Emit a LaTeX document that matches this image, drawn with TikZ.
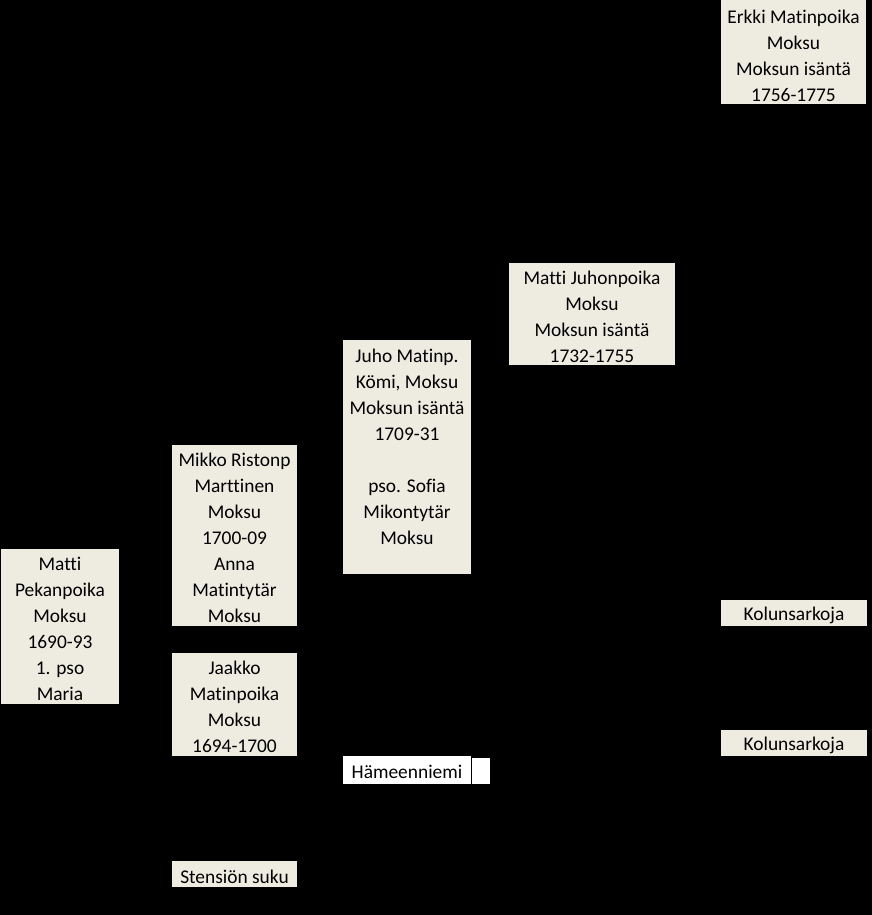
\documentclass[tikz,border=0pt]{standalone}
\usepackage{fontspec}
\setmainfont{Carlito}[Ligatures=NoCommon]
\definecolor{beige}{HTML}{EEECE1}
\begin{document}
\begin{tikzpicture}[x=1pt,y=-1pt,
  personbox/.style={fill=beige, draw=none, inner sep=0pt},
  whitebox/.style={personbox, fill=white},
  boxtext/.style={inner sep=0pt, align=center, yshift=-2.5pt,
    font=\fontsize{19.4}{26}\selectfont, text=black},
  link/.style={draw=black, line width=1pt}]
\fill[black] (0,0) rectangle (872,915);
\useasboundingbox (0,0) rectangle (872,915);

\node[personbox, minimum width=118pt, minimum height=155pt,
  label={[boxtext]center:{Matti\\Pekanpoika\\Moksu\\1690-93\\1. pso\\Maria}}] (matti) at (60,626.5) {};
\node[personbox, minimum width=125pt, minimum height=181pt,
  label={[boxtext]center:{Mikko Ristonp\\Marttinen\\Moksu\\1700-09\\Anna\\Matintytär\\Moksu}}] (mikko) at (234.5,535.5) {};
\node[personbox, minimum width=125pt, minimum height=103pt,
  label={[boxtext]center:{Jaakko\\Matinpoika\\Moksu\\1694-1700}}] (jaakko) at (234.5,704.5) {};
\node[personbox, minimum width=125pt, minimum height=26pt,
  label={[boxtext]center:{Stensiön suku}}] (stension) at (234.5,874) {};
\node[personbox, minimum width=128pt, minimum height=234pt,
  label={[boxtext, yshift=12.5pt]center:{Juho Matinp.\\Kömi, Moksu\\Moksun isäntä\\1709-31\\[26pt]pso. Sofia\\Mikontytär\\Moksu}}] (juho) at (407,457) {};
\node[whitebox, minimum width=128pt, minimum height=28pt,
  label={[boxtext, yshift=1pt]center:{Hämeenniemi}}] (hame) at (407,770) {};
\node[whitebox, minimum width=18pt, minimum height=26pt] (hameb) at (481,771) {};
\node[personbox, minimum width=166pt, minimum height=102pt,
  label={[boxtext]center:{Matti Juhonpoika\\Moksu\\Moksun isäntä\\1732-1755}}] (mjuho) at (592,314) {};
\node[personbox, minimum width=145pt, minimum height=104pt,
  label={[boxtext, yshift=-1pt]center:{Erkki Matinpoika\\Moksu\\Moksun isäntä\\1756-1775}}] (erkki) at (793.5,52) {};
\node[personbox, minimum width=146pt, minimum height=26pt,
  label={[boxtext]center:{Kolunsarkoja}}] (kol1) at (794,613) {};
\node[personbox, minimum width=146pt, minimum height=26pt,
  label={[boxtext]center:{Kolunsarkoja}}] (kol2) at (794,743) {};

% connectors (drawn in black, as in the original)
\draw[link] (matti.east) -- ++(26,0) |- (mikko.west);
\draw[link] (matti.east) -- ++(26,0) |- (jaakko.west);
\draw[link] (matti.east) -- ++(26,0) |- (stension.west);
\draw[link] (mikko.east) -- ++(23,0) |- (juho.west);
\draw[link] (jaakko.east) -- ++(23,0) |- (hame.west);
\draw[link] (juho.east) -- ++(19,0) |- (mjuho.west);
\draw[link] (mjuho.east) -- ++(23,0) |- (erkki.west);
\draw[link] (mjuho.east) -- ++(23,0) |- (kol1.west);
\draw[link] (mjuho.east) -- ++(23,0) |- (kol2.west);
\end{tikzpicture}
\end{document}
